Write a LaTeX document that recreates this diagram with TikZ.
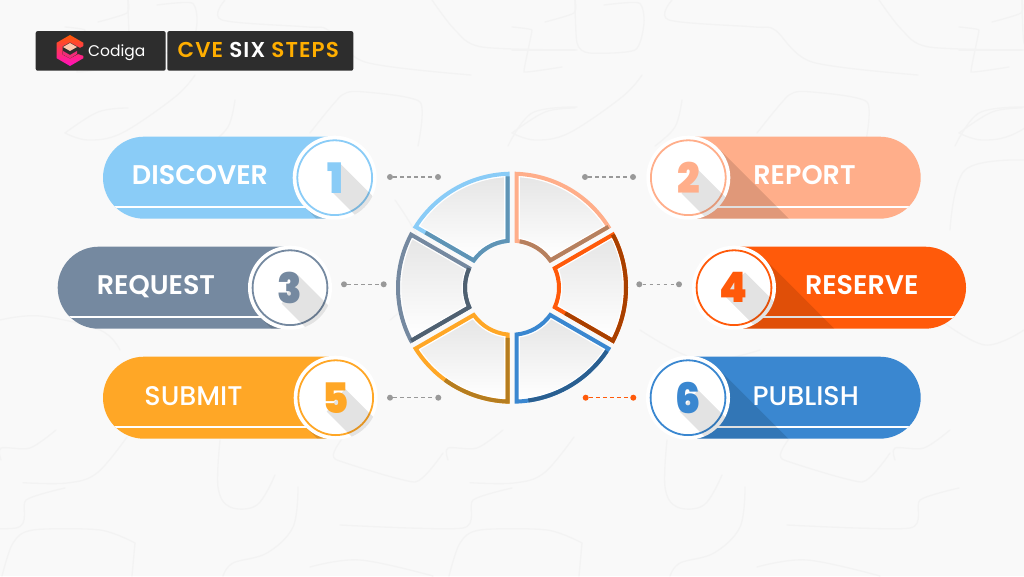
\documentclass[tikz,border=0pt]{standalone}
\usepackage{fontspec}
\usetikzlibrary{calc}
\setmainfont{Poppins}
\newfontfamily\pmed{Poppins Medium}
\newfontfamily\psemi{Poppins SemiBold}
\newfontfamily\pblack{Poppins Black}
\definecolor{bgc}{HTML}{F9F9F9}
\definecolor{bgl}{HTML}{F3F3F3}
\definecolor{hdr}{HTML}{2D2D2D}
\definecolor{amber}{HTML}{FFAE00}
\definecolor{cA}{HTML}{8ACCF7}\definecolor{dA}{HTML}{5F94B5}
\definecolor{cB}{HTML}{FFAE8A}\definecolor{dB}{HTML}{B5805F}
\definecolor{cC}{HTML}{7589A0}\definecolor{dC}{HTML}{4F6070}
\definecolor{cD}{HTML}{FF5A0A}\definecolor{dD}{HTML}{A84000}
\definecolor{cE}{HTML}{FFA726}\definecolor{dE}{HTML}{B57D20}
\definecolor{cF}{HTML}{3A87D0}\definecolor{dF}{HTML}{2A5F90}
\definecolor{dotg}{HTML}{999999}
\tikzset{
  x=1pt,y=1pt,
  bgcurve/.style={draw=bgl,line width=1.3pt,line cap=round,line join=round},
  hbox/.style={fill=hdr,draw=none,rounded corners=2pt},
  dotn/.style={circle,fill=#1,draw=none,minimum size=6pt,inner sep=0pt},
  linkline/.style={draw=#1,line width=1.3pt,dash pattern=on 3.6pt off 3.4pt},
  badge/.style={circle,fill=white,draw=none,minimum size=84pt,inner sep=0pt},
  steplabel/.style={text=white,anchor=base,inner sep=0pt},
  numlabel/.style={text=#1,inner sep=0pt,xscale=.95,transform shape,font=\pblack\fontsize{42}{42}\selectfont},
  segedge/.style={line width=4pt,line join=miter,miter limit=20},
}
% pill: #1 cx, #2 cy, #3 outer x, #4 colour, #5 badge name
\newcommand\pillbase[5]{%
  \def\pillpath{(#1,#2-41) [rounded corners=41pt] -- (#3,#2-41) -- (#3,#2+41) [sharp corners] -- (#1,#2+41) -- cycle}%
  \fill[#4] \pillpath;
  \begin{scope}
    \clip \pillpath;
    \draw[white,line width=1.9pt] (#3,#2-29) -- (#1,#2-29);
    \fill[black,opacity=.12] (#1+29.7,#2+29.7) -- ++(300,-300) -- (#1-29.7+300,#2-29.7-300) -- (#1-29.7,#2-29.7) -- cycle;
  \end{scope}
  \node[badge] (#5) at (#1,#2) {};
  \draw[#4,line width=1.8pt] (#5.center) circle[radius=37.4pt];
}
% digit: #1 badge, #2 colour, #3 digit, #4-7 shadow corners, #8 dx
\newcommand\digitmark[8]{%
  \begin{scope}
    \clip (#1.center) circle[radius=42pt];
    \fill[black,opacity=.11] ($(#1.center)+(#4,#5)$) -- ++(100,-100) -- ($(#1.center)+(#6,#7)+(100,-100)$) -- ($(#1.center)+(#6,#7)$) -- cycle;
  \end{scope}
  \node[numlabel=#2] (n#1) at ($(#1.center)+(#8,0)$) {#3};
}
% wheel segment: #1 lo, #2 hi, #3 inset : computes corners
\newcommand\segcalc[3]{%
  \pgfmathsetmacro\Ro{116-#3}%
  \pgfmathsetmacro\Ri{45+#3}%
  \pgfmathsetmacro\off{2.5+#3}%
  \pgfmathsetmacro\ao{asin(\off/\Ro)}%
  \pgfmathsetmacro\ai{asin(\off/\Ri)}%
  \pgfmathsetmacro\OLa{#1+\ao}%
  \pgfmathsetmacro\OHa{#2-\ao}%
  \pgfmathsetmacro\ILa{#1+\ai}%
  \pgfmathsetmacro\IHa{#2-\ai}%
}
\newcommand\segpath{(\OLa:\Ro pt) arc[start angle=\OLa,end angle=\OHa,radius=\Ro pt] -- (\IHa:\Ri pt) arc[start angle=\IHa,end angle=\ILa,radius=\Ri pt] -- cycle}
% #1 lo #2 hi #3 light colour
\newcommand\segbase[3]{%
  \segcalc{#1}{#2}{4.5}%
  \shade[top color=black!10,bottom color=white] \segpath;
  \draw[white,line width=1.7pt,line join=miter] \segpath;
  \segcalc{#1}{#2}{2}%
  \coordinate (OL) at (\OLa:\Ro pt);
  \coordinate (OH) at (\OHa:\Ro pt);
  \coordinate (IL) at (\ILa:\Ri pt);
  \coordinate (IH) at (\IHa:\Ri pt);
  \draw[#3,segedge] \segpath;
}
\begin{document}
\begin{tikzpicture}
\useasboundingbox (0,0) rectangle (1024,576);
\clip (0,0) rectangle (1024,576);
\fill[bgc] (0,0) rectangle (1024,576);

% faint background strokes
\begin{scope}[shift={(0pt,576pt)},y=-1pt]
\foreach \ox in {-447,0,447}{
\begin{scope}[xshift=\ox pt]
 \draw[bgcurve] plot[smooth,tension=.6] coordinates {(23,482.7)(67,483)(97,473)(127,437)};
 \draw[bgcurve] plot[smooth,tension=.6] coordinates {(220,440)(218,487)(230,507)(257,505)(275,475)};
 \draw[bgcurve] plot[smooth,tension=.6] coordinates {(298,487)(293,527)(267,553)(233,563)(223,576)};
 \draw[bgcurve] plot[smooth,tension=.4] coordinates {(340,525)(463,528)(473,500)(512,488)};
 \draw[bgcurve] plot[smooth,tension=.3] coordinates {(443,453)(415,482)(337,460)(335,450)(343,437)};
 \draw[bgcurve] plot[smooth,tension=.5] coordinates {(135,543)(100,530)(33,530)(13,543)(2,576)};
 \draw[bgcurve] (135,543) -- (132,576);
 \draw[bgcurve] plot[smooth,tension=.6] coordinates {(310,567)(360,560)(433,576)};
 \draw[bgcurve] plot[smooth,tension=.5] coordinates {(448,460)(448,448)(477,448)(503,430)};
 \draw[bgcurve] plot[smooth,tension=.5] coordinates {(672,0)(669,20)(755,27)(775,30)(812,62)(918,75)};
 \draw[bgcurve] plot[smooth,tension=.5] coordinates {(879,0)(902,30)(929,47)(1024,50)};
 \draw[bgcurve] plot[smooth,tension=.4] coordinates {(604,5)(639,3)(644,23)(635,50)(589,53)(577,43)(575,0)};
 \draw[bgcurve] plot[smooth,tension=.4] coordinates {(545,22)(574,13)(575,0)};
 \draw[bgcurve] plot[smooth,tension=.1] coordinates {(512,27)(532,30)(524,72)(562,67)};
 \draw[bgcurve] (512,50) -- (575,50);
 \draw[bgcurve] plot[smooth,tension=.6] coordinates {(642,75)(622,97)(569,133)(535,140)(512,133)};
 \draw[bgcurve] plot[smooth,tension=.6] coordinates {(575,108)(545,112)(512,133)};
 \draw[bgcurve] plot[smooth,tension=.6] coordinates {(682,100)(675,127)(655,146)};
 \draw[bgcurve] plot[smooth,tension=.4] coordinates {(757,133)(789,95)(812,92)(867,102)(865,146)};
 \draw[bgcurve] plot[smooth,tension=.6] coordinates {(955,146)(979,113)(1024,107)};
\end{scope}}
 \draw[bgcurve] plot[smooth,tension=.6] coordinates {(0,320)(40,316)(100,330)(120,350)};
 \draw[bgcurve] plot[smooth,tension=.6] coordinates {(940,320)(985,345)(1024,330)};
 \draw[bgcurve] plot[smooth,tension=.6] coordinates {(390,320)(430,270)(395,200)};
 \draw[bgcurve] plot[smooth,tension=.6] coordinates {(640,330)(700,360)(760,350)};
 \draw[bgcurve] plot[smooth,tension=.6] coordinates {(950,230)(965,170)(1024,160)};
\end{scope}

% header
\node[hbox,minimum width=130pt,minimum height=39.6pt,inner sep=0pt] (hleft) at (100.7,525.1) {};
\node[hbox,minimum width=186pt,minimum height=39.6pt,inner sep=0pt] (hright) at (260.3,525.1) {};
% logo
\shade[top color=orange!70!red,bottom color=magenta!75!red!95!white]
  (70,541) -- (83.4,533.2) -- (83.4,517.8) -- (70,510) -- (56.6,517.8) -- (56.6,533.2) -- cycle;
\fill[hdr] (70,533.5) -- (80,528) -- (90,533) -- (90,518) -- (78,522) -- (70,517.5) -- (62.6,521.5) -- (62.6,529.5) -- cycle;
\fill[cB!70!white] (70,533) -- (77,529) -- (70,525) -- (63,529) -- cycle;
\fill[magenta!70!orange] (63,525) -- (70,521) -- (77,525) -- (77,522) -- (70,517.5) -- (63,521.5) -- cycle;
\node[text=white,anchor=base west,inner sep=0pt,font=\fontsize{15.5}{15.5}\selectfont] (codiga) at (88,519.5) {Codiga};
\node[anchor=base,inner sep=0pt,font=\psemi\fontsize{21.5}{21.5}\selectfont] (htitle) at (258.3,518.8) {\addfontfeature{LetterSpace=5}\textcolor{amber}{CVE} \textcolor{white}{SIX} \textcolor{amber}{STEPS}};

% pills
\pillbase{334.7}{398.3}{103}{cA}{bA}
\pillbase{688.3}{398.3}{920.7}{cB}{bB}
\pillbase{290}{288.3}{57.7}{cC}{bC}
\pillbase{734}{288.3}{966}{cD}{bD}
\pillbase{335.7}{178.3}{103}{cE}{bE}
\pillbase{688}{178.3}{920.7}{cF}{bF}
\digitmark{bA}{cA}{1}{5.3}{14.3}{-3}{-14}{1}
\digitmark{bB}{cB}{2}{10}{7.7}{-6.7}{-15.7}{0}
\digitmark{bC}{cC}{3}{8.3}{12.3}{-8.3}{-16}{0}
\digitmark{bD}{cD}{4}{11}{15.3}{-10.7}{-6.7}{0}
\digitmark{bE}{cE}{5}{9.3}{9}{-9}{-14}{0}
\digitmark{bF}{cF}{6}{10}{7.7}{-8.3}{-14}{0}

\node[steplabel,font=\psemi\fontsize{27}{27}\selectfont] (lA) at (200,391) {DISCOVER};
\node[steplabel,font=\psemi\fontsize{27}{27}\selectfont] (lB) at (804.5,391) {REPORT};
\node[steplabel,font=\psemi\fontsize{27}{27}\selectfont] (lC) at (156,281) {REQUEST};
\node[steplabel,font=\psemi\fontsize{27}{27}\selectfont] (lD) at (861.7,281.7) {RESERVE};
\node[steplabel,font=\pmed\fontsize{27}{27}\selectfont] (lE) at (193.5,171) {SUBMIT};
\node[steplabel,font=\pmed\fontsize{27}{27}\selectfont] (lF) at (805.7,171) {PUBLISH};

% connectors
\node[dotn=dotg] (a1) at (390,399) {}; \node[dotn=dotg] (a2) at (438,399) {};
\node[dotn=dotg] (b1) at (585,399) {}; \node[dotn=dotg] (b2) at (633,399) {};
\node[dotn=dotg] (c1) at (344,291.7) {}; \node[dotn=dotg] (c2) at (383.7,291.7) {};
\node[dotn=dotg] (d1) at (639.3,291.7) {}; \node[dotn=dotg] (d2) at (679,291.7) {};
\node[dotn=dotg] (e1) at (390,178.3) {}; \node[dotn=dotg] (e2) at (438.3,178.3) {};
\node[dotn=cD] (f1) at (585.7,178.3) {}; \node[dotn=cD] (f2) at (633.3,178.3) {};
\draw[linkline=dotg] (a1) -- (a2);
\draw[linkline=dotg] (b1) -- (b2);
\draw[linkline=dotg] (c1) -- (c2);
\draw[linkline=dotg] (d1) -- (d2);
\draw[linkline=dotg] (e1) -- (e2);
\draw[linkline=cD] (f1) -- (f2);

% wheel
\begin{scope}[shift={(512pt,288.3pt)}]
 % top left
 \segbase{90}{150}{cA}
 \draw[dA,segedge] ($(OH)!.17!(IH)$) -- (IH) arc[start angle=\IHa,end angle=\ILa,radius=\Ri pt] -- ($(IL)!.96!(OL)$);
 % top right
 \segbase{30}{90}{cB}
 \pgfmathsetmacro\st{\IHa-4}
 \draw[dB,segedge] (\st:\Ri pt) arc[start angle=\st,end angle=\ILa,radius=\Ri pt] -- (OL);
 % right
 \segbase{-30}{30}{cD}
 \draw[dD,segedge] (OH) arc[start angle=\OHa,end angle=\OLa,radius=\Ro pt] -- ($(OL)!.82!(IL)$);
 % bottom right
 \segbase{270}{330}{cF}
 \pgfmathsetmacro\st{\OHa-1.5}\pgfmathsetmacro\en{\OLa+6}
 \draw[dF,segedge] (\st:\Ro pt) arc[start angle=\st,end angle=\en,radius=\Ro pt];
 % bottom left
 \segbase{210}{270}{cE}
 \draw[dE,segedge] ($(IH)!.05!(OH)$) -- (OH) arc[start angle=\OHa,end angle=234,radius=\Ro pt];
 % left
 \segbase{150}{210}{cC}
 \draw[dC,segedge] (IL) arc[start angle=\ILa,end angle=\IHa,radius=\Ri pt] -- (OH);
\end{scope}
\end{tikzpicture}
\end{document}
